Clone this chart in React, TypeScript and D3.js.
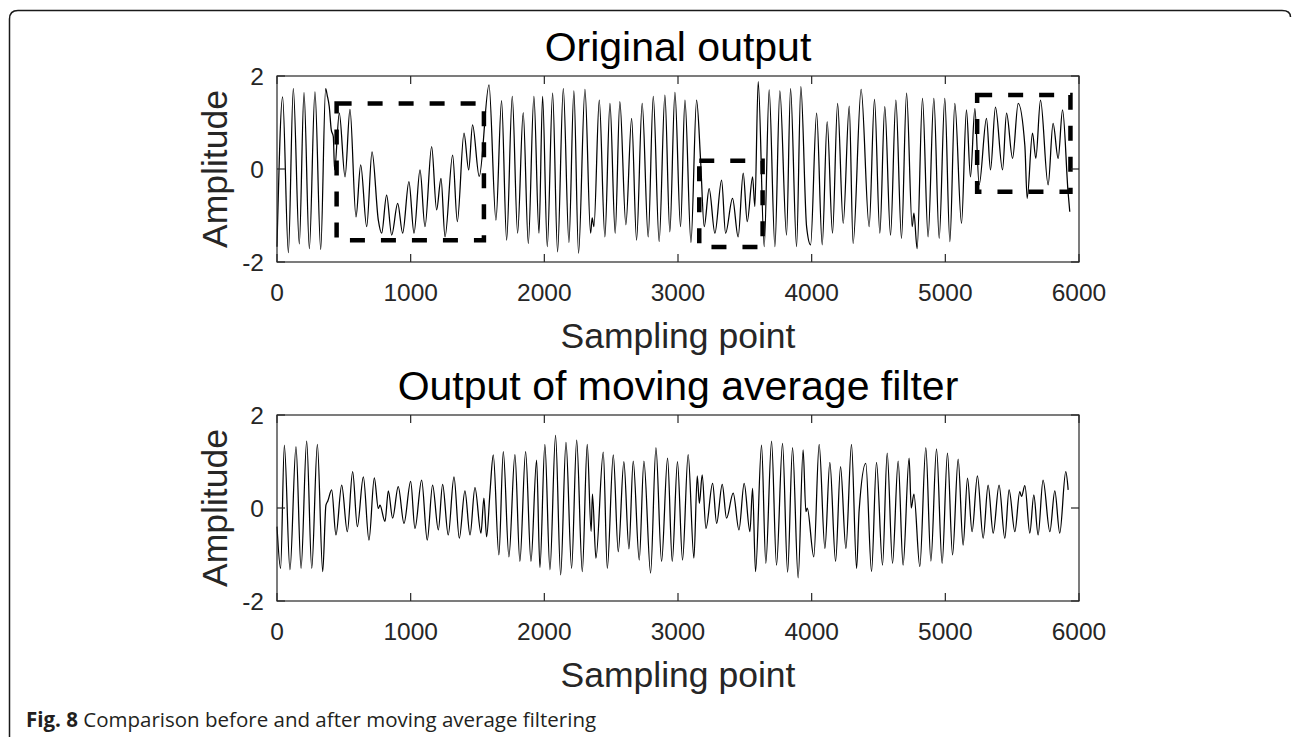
import React from "react";
import * as d3 from "d3";

// ---- data (local extrema of the signals) ----
const topSample = [0,42,85,122,167,202,242,284,327,364,376,391,406,421,431,466,509,546,591,626,671,711,758,783,820,858,903,940,987,1025,1070,1107,1157,1194,1227,1257,1314,1349,1399,1434,1463,1513,1586,1638,1680,1718,1760,1800,1842,1880,1922,1960,1987,2022,2062,2099,2142,2184,2221,2256,2304,2346,2358,2371,2411,2453,2491,2530,2565,2610,2653,2690,2732,2777,2815,2859,2902,2939,2977,3019,3052,3097,3139,3169,3196,3233,3276,3326,3356,3408,3450,3488,3518,3558,3575,3600,3645,3682,3725,3762,3812,3842,3887,3919,3962,3992,4037,4079,4116,4156,4194,4236,4281,4310,4370,4430,4470,4510,4547,4590,4630,4672,4710,4752,4765,4789,4829,4871,4914,4954,4996,5034,5071,5121,5158,5188,5221,5253,5308,5338,5375,5428,5458,5503,5545,5595,5612,5652,5677,5712,5769,5806,5844,5877,5918,5931];
const topAmp = [-1.67,1.55,-1.80,1.73,-1.61,1.64,-1.71,1.66,-1.73,1.73,1.58,1.34,0.84,0.70,-0.02,1.20,-0.17,1.28,-1.03,0.09,-1.24,0.37,-1.10,-1.38,-0.56,-1.42,-0.74,-1.38,-0.27,-1.38,-0.02,-1.24,0.48,-0.88,-0.20,-1.46,0.30,-1.13,0.77,-0.02,0.95,-0.16,1.81,-1.10,1.47,-1.53,1.56,-1.38,1.21,-1.60,1.56,-1.38,1.56,-1.67,1.63,-1.78,1.73,-1.58,1.68,-1.81,1.71,-1.38,-1.05,-1.24,1.48,-1.46,1.41,-1.38,1.45,-1.20,1.09,-1.53,1.41,-1.46,1.56,-1.56,1.59,-1.35,1.65,-1.24,1.48,-1.58,1.48,0.19,-1.24,-0.42,-1.38,-0.24,-1.38,-0.63,-1.46,-0.09,-1.13,-0.17,-0.81,1.88,-1.67,1.70,-1.67,1.68,-1.42,1.73,-1.67,1.77,-1.24,-1.63,1.20,-1.63,1.02,-1.38,1.41,-1.17,1.35,-1.60,1.71,-1.24,1.50,-1.38,1.34,-1.42,1.48,-1.49,1.63,-1.24,-0.95,-1.71,1.52,-1.46,1.52,-1.49,1.52,-1.56,1.41,-1.17,1.27,-0.17,1.30,-0.34,1.09,-0.02,1.33,-0.02,1.20,0.23,1.41,0.50,-0.63,0.77,0.23,1.48,-0.34,0.98,0.23,1.27,-0.49,-0.92];

const botSample = [0,27,55,97,142,180,222,260,302,342,366,380,409,441,484,526,566,601,646,688,728,758,770,808,833,865,907,950,1000,1032,1082,1124,1164,1207,1239,1281,1324,1364,1406,1444,1481,1526,1548,1568,1593,1618,1660,1693,1735,1780,1817,1860,1900,1942,1967,2004,2042,2084,2122,2162,2204,2242,2284,2321,2350,2360,2386,2441,2471,2516,2553,2595,2633,2665,2710,2745,2795,2835,2877,2922,2957,2996,3034,3076,3119,3144,3160,3181,3209,3259,3289,3331,3363,3413,3456,3495,3538,3558,3580,3625,3657,3700,3737,3782,3820,3857,3899,3936,3957,3967,4016,4056,4099,4136,4179,4216,4256,4298,4336,4355,4405,4448,4485,4530,4565,4605,4647,4684,4729,4745,4765,4809,4854,4892,4934,4976,5016,5054,5096,5133,5166,5200,5240,5283,5320,5358,5402,5445,5477,5520,5557,5570,5595,5632,5662,5694,5731,5782,5819,5856,5901,5919];
const botAmp = [-0.40,-1.30,1.35,-1.33,1.32,-1.30,1.44,-1.30,1.37,-1.37,0.06,0.15,0.39,-0.58,0.49,-0.51,0.78,-0.40,0.67,-0.69,0.65,-0.01,0.06,-0.29,0.37,-0.22,0.46,-0.33,0.57,-0.44,0.60,-0.69,0.49,-0.47,0.51,-0.58,0.67,-0.65,0.37,-0.58,0.44,-0.54,0.21,-0.62,0.32,1.14,-1.01,1.21,-1.05,1.15,-1.15,1.21,-1.15,1.03,-1.28,1.37,-1.33,1.56,-1.44,1.41,-1.30,1.46,-1.37,1.37,-0.50,0.30,-1.08,1.20,-1.30,1.14,-0.94,1.00,-0.88,1.01,-1.12,1.01,-1.40,1.30,-1.15,1.07,-1.15,1.00,-1.12,1.15,-1.08,0.69,0.10,0.71,-0.44,0.53,-0.33,0.51,-0.22,0.32,-0.47,0.53,-0.51,0.42,-1.37,1.35,-1.19,1.44,-1.23,1.39,-1.38,1.30,-1.50,1.25,-0.08,0.00,-1.05,1.37,-0.87,0.98,-1.15,0.89,-0.87,1.37,-1.30,-0.06,0.96,-1.37,0.98,-1.23,1.18,-1.19,1.01,-1.23,1.07,0.00,0.30,-1.26,1.30,-1.14,1.27,-1.19,1.18,-1.01,1.05,-0.80,0.64,-0.51,0.69,-0.65,0.49,-0.54,0.49,-0.65,0.39,-0.51,0.35,0.25,0.48,-0.54,0.28,-0.58,0.60,-0.51,0.37,-0.54,0.78,0.39];

// dashed highlight boxes in the upper panel
const boxStart = [446, 3159, 5238];
const boxEnd = [1548, 3633, 5936];
const boxLow = [-1.53, -1.68, -0.49];
const boxHigh = [1.41, 0.18, 1.59];

const xTicks = [0, 1000, 2000, 3000, 4000, 5000, 6000];
const yTicks = [-2, 0, 2];
const titles = ["Original output", "Output of moving average filter"];
const xLabel = "Sampling point";
const yLabel = "Amplitude";

const W = 1292;
const H = 737;
const AX = "#262626";
const FONT = "'Liberation Sans', Arial, Helvetica, sans-serif";

type PanelProps = {
  top: number;
  bottom: number;
  title: string;
  xs: number[];
  ys: number[];
  boxes: boolean;
};

function Panel({ top, bottom, title, xs, ys, boxes }: PanelProps) {
  const left = 277;
  const right = 1079;
  const x = d3.scaleLinear().domain([0, 6000]).range([left, right]);
  const y = d3.scaleLinear().domain([-2, 2]).range([bottom, top]);
  const pts = xs.map((v, i) => [v, ys[i]] as [number, number]);
  const line = d3
    .line<[number, number]>()
    .x((d) => x(d[0]))
    .y((d) => y(d[1]))
    .curve(d3.curveMonotoneX);
  const tl = 8;
  const midX = (left + right) / 2;
  const midY = (top + bottom) / 2;
  return (
    <g>
      <rect x={left} y={top} width={right - left} height={bottom - top} fill="#fff" />
      <path d={line(pts) || ""} fill="none" stroke="#000" strokeWidth={1.25} />
      {boxes &&
        boxStart.map((b, i) => {
          const x0 = x(b), x1 = x(boxEnd[i]);
          const y0 = y(boxHigh[i]), y1 = y(boxLow[i]);
          return (
            <path
              key={i}
              d={`M${x0},${y0}H${x1}V${y1}H${x0}Z`}
              fill="none"
              stroke="#000"
              strokeWidth={4.5}
              strokeDasharray="15 16"
            />
          );
        })}
      <rect x={left} y={top} width={right - left} height={bottom - top} fill="none" stroke={AX} strokeWidth={1.2} />
      {xTicks.map((t) => (
        <g key={"x" + t}>
          <line x1={x(t)} x2={x(t)} y1={bottom} y2={bottom - tl} stroke={AX} strokeWidth={1.2} />
          <line x1={x(t)} x2={x(t)} y1={top} y2={top + tl} stroke={AX} strokeWidth={1.2} />
          <text x={x(t)} y={bottom + 39} textAnchor="middle" fontSize={24.5} fill={AX} fontFamily={FONT}>
            {t}
          </text>
        </g>
      ))}
      {yTicks.map((t) => (
        <g key={"y" + t}>
          <line x1={left} x2={left + tl} y1={y(t)} y2={y(t)} stroke={AX} strokeWidth={1.2} />
          <line x1={right} x2={right - tl} y1={y(t)} y2={y(t)} stroke={AX} strokeWidth={1.2} />
          <text x={left - 13} y={y(t) + 9} textAnchor="end" fontSize={24.5} fill={AX} fontFamily={FONT}>
            {t}
          </text>
        </g>
      ))}
      <text x={midX} y={top - 15} textAnchor="middle" fontSize={41} fill="#000" fontFamily={FONT}>
        {title}
      </text>
      <text x={midX} y={bottom + 86} textAnchor="middle" fontSize={35.5} fill={AX} fontFamily={FONT}>
        {xLabel}
      </text>
      <text
        transform={`translate(${left - 50},${midY}) rotate(-90)`}
        textAnchor="middle"
        fontSize={35.5}
        fill={AX}
        fontFamily={FONT}
      >
        {yLabel}
      </text>
    </g>
  );
}

export default function App() {
  return (
    <svg
      width={W}
      height={H}
      viewBox={`0 0 ${W} ${H}`}
      style={{ position: "absolute", left: 0, top: 0, display: "block", background: "#fff" }}
    >
      <rect x={0} y={0} width={W} height={H} fill="#fff" />
      <path
        d="M9.5,737 V19 Q9.5,10.5 18,10.5 H1282 Q1290.5,10.5 1290.5,17"
        fill="none"
        stroke="#1a1a1a"
        strokeWidth={1.5}
      />
      <Panel top={76} bottom={262} title={titles[0]} xs={topSample} ys={topAmp} boxes={true} />
      <Panel top={415} bottom={601} title={titles[1]} xs={botSample} ys={botAmp} boxes={false} />
      <text x={26} y={727} fontSize={20.5} fontFamily="'Open Sans', 'Noto Sans', sans-serif" fill="#231f20">
        <tspan fontWeight="bold">Fig. 8</tspan>
        <tspan> Comparison before and after moving average filtering</tspan>
      </text>
    </svg>
  );
}
